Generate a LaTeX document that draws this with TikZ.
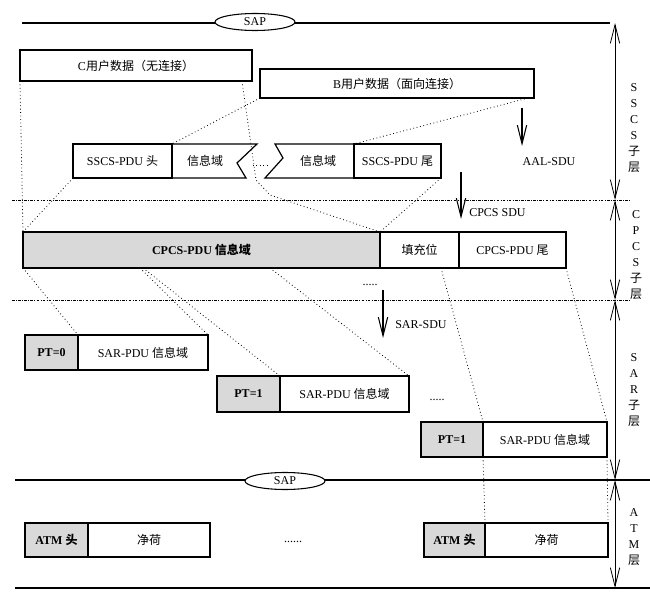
\documentclass[tikz,border=0pt]{standalone}
\usepackage{fontspec}
\setmainfont{Liberation Serif}
\newfontfamily\cjk{Noto Sans CJK SC}
\newcommand\cn[1]{{\cjk #1}}
\usetikzlibrary{positioning,arrows.meta,shapes.geometric}
\newdimen\pxu \pxu=0.75pt

\begin{document}
\begin{tikzpicture}[x=0.75pt, y=-0.75pt,
    box/.style={draw, line width=0.9pt, inner sep=0pt, outer sep=0pt, anchor=north west,
                align=center, font=\fontsize{9}{10}\selectfont},
    hdr/.style={box, fill=gray!30, font=\fontsize{9}{10}\selectfont\bfseries},
    lbl/.style={inner sep=0pt, font=\fontsize{9}{10}\selectfont},
    vlbl/.style={inner sep=0pt, align=center, font=\fontsize{9}{12}\selectfont},
    link/.style={dotted, line width=0.6pt},
    sep/.style={line width=0.6pt, dash pattern=on 2pt off 1pt on 0.6pt off 1pt},
    sapline/.style={line width=1.2pt},
    sap/.style={draw, ellipse, fill=white, line width=0.8pt, minimum width=80\pxu,
                minimum height=17\pxu, inner sep=0pt, font=\fontsize{9}{10}\selectfont},
    down/.style={-{Straight Barb[length=14pt,width=7pt]}, line width=0.8pt},
    layer/.style={{Straight Barb[length=14pt,width=7pt]}-{Straight Barb[length=14pt,width=7pt]},
                  line width=0.6pt}
  ]
  \useasboundingbox (0,0) rectangle (650,595);

  % SAP lines
  \coordinate (topL) at (22,23);  \coordinate (topR) at (610,23);
  \coordinate (botL) at (15,480); \coordinate (botR) at (650,480);
  \coordinate (endL) at (15,588); \coordinate (endR) at (650,588);
  \draw[sapline] (topL) -- (topR);
  \draw[sapline] (botL) -- (botR);
  \draw[sapline] (endL) -- (endR);
  \node[sap] (sap1) at (255,22)  {SAP};
  \node[sap] (sap2) at (285,481) {SAP};

  % sublayer separators
  \foreach \y/\n in {200/s1, 300/s2} {
    \coordinate (\n-l) at (12,\y); \coordinate (\n-r) at (630,\y);
    \draw[sep] (\n-l) -- (\n-r);
  }

  % SSCS
  \node[box, minimum width=232\pxu, minimum height=31\pxu] (cdata) at (20,50) {C\cn{用户数据（无连接）}};
  \node[box, minimum width=274\pxu, minimum height=29\pxu] (bdata) at (260,69) {B\cn{用户数据（面向连接）}};
  \node[box, minimum width=99\pxu, minimum height=34\pxu] (ssh) at (73,144) {SSCS-PDU \cn{头}};
  \node[box, minimum width=87\pxu, minimum height=34\pxu] (sst) at (354,144) {SSCS-PDU \cn{尾}};
  \draw[line width=0.9pt] (ssh.north east) -- (257,144) -- (237,163) -- (246,178) -- (ssh.south east);
  \draw[line width=0.9pt] (sst.north west) -- (275,144) -- (283,158) -- (265,178) -- (sst.south west);
  \node[lbl] (info1) at (205,161) {\cn{信息域}};
  \node[lbl] (info2) at (318,161) {\cn{信息域}};
  \coordinate (gapL) at (253,165); \coordinate (gapR) at (270,165);

  % CPCS
  \node[hdr, line width=2.2pt, minimum width=357\pxu, minimum height=36\pxu] (cpcsinfo) at (23,232) {CPCS-PDU \cn{信息域}};
  \node[box, line width=0.8pt, minimum width=79\pxu, minimum height=36\pxu, right=0pt of cpcsinfo] (pad) {\cn{填充位}};
  \node[box, line width=0.8pt, minimum width=107\pxu, minimum height=36\pxu, right=0pt of pad] (cpcst) {CPCS-PDU \cn{尾}};

  % SAR
  \node[hdr, minimum width=53\pxu, minimum height=35\pxu] (pt0) at (25,335) {PT=0};
  \node[box, minimum width=130\pxu, minimum height=35\pxu, right=0pt of pt0] (sar0) {SAR-PDU \cn{信息域}};
  \node[hdr, minimum width=63\pxu, minimum height=36\pxu] (pt1) at (217,376) {PT=1};
  \node[box, minimum width=129\pxu, minimum height=36\pxu, right=0pt of pt1] (sar1) {SAR-PDU \cn{信息域}};
  \node[hdr, minimum width=62\pxu, minimum height=35\pxu] (pt2) at (421,422) {PT=1};
  \node[box, minimum width=124\pxu, minimum height=35\pxu, right=0pt of pt2] (sar2) {SAR-PDU \cn{信息域}};

  % ATM
  \node[hdr, minimum width=63\pxu, minimum height=34\pxu] (atm1) at (25,523) {ATM \cn{头}};
  \node[box, minimum width=122\pxu, minimum height=34\pxu, right=0pt of atm1] (pay1) {\cn{净荷}};
  \node[hdr, minimum width=61\pxu, minimum height=34\pxu] (atm2) at (424,523) {ATM \cn{头}};
  \node[box, minimum width=123\pxu, minimum height=34\pxu, right=0pt of atm2] (pay2) {\cn{净荷}};

  \node[lbl] (dots1) at (370,285) {.....};
  \node[lbl] (dots2) at (437,400) {.....};
  \node[lbl] (dots3) at (293,542) {......};

  % down arrows
  \coordinate (aalT) at (522,108);  \coordinate (aalB) at (522,146);
  \coordinate (cpcsT) at (461,172); \coordinate (cpcsB) at (461,219);
  \coordinate (sarT) at (383,290);  \coordinate (sarB) at (383,338);
  \draw[down] (aalT) -- (aalB);
  \draw[down] (cpcsT) -- (cpcsB);
  \draw[down] (sarT) -- (sarB);
  \node[lbl] (aal) at (549,162) {AAL-SDU};
  \node[lbl, anchor=west] (cpcssdu) at (469,213) {CPCS SDU};
  \node[lbl, anchor=west] (sarsdu) at (395,325) {SAR-SDU};

  % dotted mapping
  \draw[link] (cdata.south west) -- (cpcsinfo.north west);
  \draw[link] ([xshift=-10\pxu]cdata.south east) -- (256,180) -- (270,195) -- (cpcsinfo.north east);
  \draw[link] (bdata.south west) -- (ssh.north east);
  \draw[link] ([xshift=-6\pxu]bdata.south east) -- (sst.north west);
  \draw[link] (ssh.south west) -- (cpcsinfo.north west);
  \draw[link] (sst.south east) -- (cpcsinfo.north east);
  \draw[link] (gapL) -- (gapR);
  \draw[link] (cpcsinfo.south west) -- (sar0.north west);
  \draw[link] ([xshift=117\pxu]cpcsinfo.south west) -- (sar0.north east);
  \draw[link] ([xshift=120\pxu]cpcsinfo.south west) -- (sar1.north west);
  \draw[link] ([xshift=247\pxu]cpcsinfo.south west) -- (sar1.north east);
  \draw[link] ([xshift=-18\pxu]pad.south east) -- (sar2.north west);
  \draw[link] (cpcst.south east) -- (sar2.north east);
  \draw[link] (sar2.south west) -- (pay2.north west);
  \draw[link] (sar2.south east) -- (pay2.north east);

  % layer arrows
  \foreach \y [count=\i] in {23,200,300,480,588}
    \coordinate (lay\i) at (615,\y);
  \foreach \a/\b in {1/2, 2/3, 3/4, 4/5}
    \draw[layer] (lay\a) -- (lay\b);
  \node[vlbl] (sscs) at (634,128) {S\\S\\C\\S\\\cn{子}\\\cn{层}};
  \node[vlbl] (cpcs) at (636,255) {C\\P\\C\\S\\\cn{子}\\\cn{层}};
  \node[vlbl] (sar)  at (634,390) {S\\A\\R\\\cn{子}\\\cn{层}};
  \node[vlbl] (atm)  at (634,537) {A\\T\\M\\\cn{层}};
\end{tikzpicture}
\end{document}
